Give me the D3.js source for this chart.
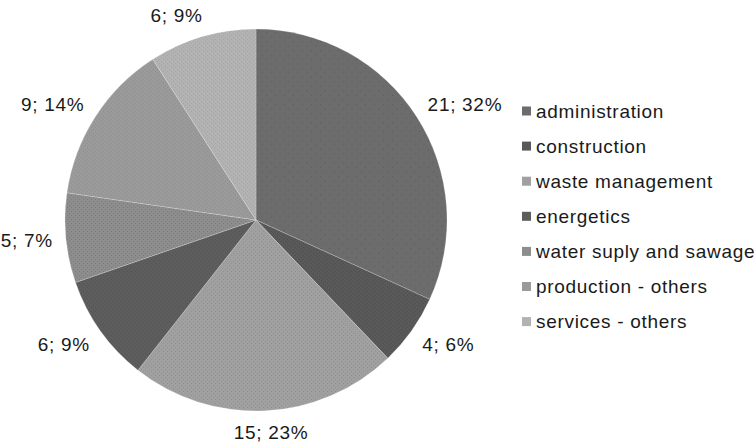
<!DOCTYPE html>
<html>
<head>
<meta charset="utf-8">
<script src="https://cdn.jsdelivr.net/npm/d3@7"></script>
<style>
  body { margin: 0; background: #fff; }
  text { font-family: "Liberation Sans", Arial, sans-serif; fill: #1a1a1a; letter-spacing: 0.7px; }
</style>
</head>
<body>
<div id="chart"></div>
<script>
// chart data
var categories = ["administration", "construction", "waste management", "energetics",
                  "water suply and sawage", "production - others", "services - others"];
var values = [21, 4, 15, 6, 5, 9, 6];
var percents = [32, 6, 23, 9, 7, 14, 9];

var colors = ["#6c6c6c", "#595959", "#a0a0a0", "#5d5d5d", "#8d8d8d", "#9a9a9a", "#b2b2b2"];
var dotColors = ["#5a5a5a", "#4e4e4e", "#929292", "#535353", "#7c7c7c", "#8f8f8f", "#a5a5a5"];

var w = 755, h = 443;
var cx = 256, cy = 220, r = 191;

var svg = d3.select("#chart").append("svg")
    .attr("width", w)
    .attr("height", h);

// dotted textures like the original
var defs = svg.append("defs");
colors.forEach(function (c, i) {
    var step = i == 0 ? 9 : 4;
    var p = defs.append("pattern")
        .attr("id", "pat" + i)
        .attr("patternUnits", "userSpaceOnUse")
        .attr("width", step)
        .attr("height", step);
    p.append("rect").attr("width", step).attr("height", step).attr("fill", c);
    p.append("rect").attr("x", 1).attr("y", 1).attr("width", 1).attr("height", 1).attr("fill", dotColors[i]);
    p.append("rect").attr("x", step / 2 + 1).attr("y", step / 2 + 1).attr("width", 1).attr("height", 1).attr("fill", dotColors[i]);
});

var pie = d3.pie().sort(null).value(function (d) { return d; });
var arcs = pie(values);
var arc = d3.arc().innerRadius(0).outerRadius(r);

var g = svg.append("g").attr("transform", "translate(" + cx + "," + cy + ")");

g.selectAll("path")
    .data(arcs)
    .enter()
    .append("path")
    .attr("d", arc)
    .attr("fill", function (d, i) { return "url(#pat" + i + ")"; })
    .attr("stroke", "#ffffff")
    .attr("stroke-opacity", 0.35)
    .attr("stroke-width", 0.6);

// labels: text box pushed just outside the rim
var fontSize = 19;
var labelR = r + 13;
var labels = g.selectAll("text.lbl")
    .data(arcs)
    .enter()
    .append("text")
    .attr("class", "lbl")
    .style("font-size", fontSize + "px")
    .attr("text-anchor", "middle")
    .attr("dy", "0.35em")
    .text(function (d, i) { return d.value + "; " + percents[i] + "%"; });

labels.each(function (d) {
    var a = (d.startAngle + d.endAngle) / 2;
    var bw = this.getComputedTextLength();
    var bh = fontSize * 0.9;
    var sx = Math.max(-1, Math.min(1, Math.sin(a) * 3));
    var sy = Math.max(-1, Math.min(1, Math.cos(a) * 1.2));
    var x = Math.sin(a) * labelR + sx * bw / 2;
    var y = -Math.cos(a) * labelR - sy * bh / 2;
    d3.select(this).attr("x", x).attr("y", y);
});

// legend
var legend = svg.append("g").attr("transform", "translate(522,111)");
var row = legend.selectAll("g")
    .data(categories)
    .enter()
    .append("g")
    .attr("transform", function (d, i) { return "translate(0," + (i * 35.1) + ")"; });

row.append("rect")
    .attr("x", 0)
    .attr("y", -4.5)
    .attr("width", 9)
    .attr("height", 9)
    .attr("fill", function (d, i) { return colors[i]; });

row.append("text")
    .attr("x", 14)
    .attr("dy", "0.35em")
    .style("font-size", fontSize + "px")
    .text(function (d) { return d; });
</script>
</body>
</html>
